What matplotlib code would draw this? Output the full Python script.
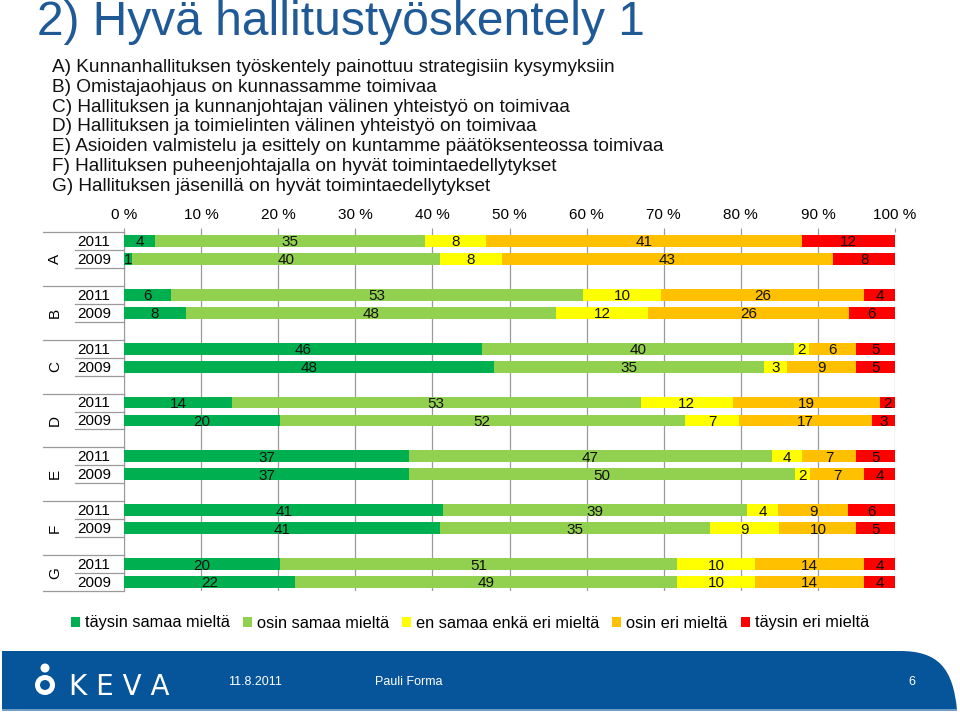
import matplotlib
matplotlib.use('Agg')
import matplotlib.pyplot as plt
from matplotlib.patches import Rectangle, Circle, PathPatch
from matplotlib.path import Path
import numpy as np

plt.rcParams['font.family'] = ['Liberation Sans', 'DejaVu Sans']

title = '2) Hyvä hallitustyöskentely 1'
statements = [
    'A) Kunnanhallituksen työskentely painottuu strategisiin kysymyksiin',
    'B) Omistajaohjaus on kunnassamme toimivaa',
    'C) Hallituksen ja kunnanjohtajan välinen yhteistyö on toimivaa',
    'D) Hallituksen ja toimielinten välinen yhteistyö on toimivaa',
    'E) Asioiden valmistelu ja esittely on kuntamme päätöksenteossa toimivaa',
    'F) Hallituksen puheenjohtajalla on hyvät toimintaedellytykset',
    'G) Hallituksen jäsenillä on hyvät toimintaedellytykset',
]

groups = ['A', 'B', 'C', 'D', 'E', 'F', 'G']
years = ['2011', '2009']
answers = ['täysin samaa mieltä', 'osin samaa mieltä', 'en samaa enkä eri mieltä',
           'osin eri mieltä', 'täysin eri mieltä']
colors = ['#00B050', '#92D050', '#FFFF00', '#FFC000', '#FF0000']

# per group: [2011 row, 2009 row], values in percent
vals_A = [[4, 35, 8, 41, 12], [1, 40, 8, 43, 8]]
vals_B = [[6, 53, 10, 26, 4], [8, 48, 12, 26, 6]]
vals_C = [[46, 40, 2, 6, 5], [48, 35, 3, 9, 5]]
vals_D = [[14, 53, 12, 19, 2], [20, 52, 7, 17, 3]]
vals_E = [[37, 47, 4, 7, 5], [37, 50, 2, 7, 4]]
vals_F = [[41, 39, 4, 9, 6], [41, 35, 9, 10, 5]]
vals_G = [[20, 51, 10, 14, 4], [22, 49, 10, 14, 4]]
all_vals = [vals_A, vals_B, vals_C, vals_D, vals_E, vals_F, vals_G]

footer_date = '11.8.2011'
footer_name = 'Pauli Forma'
page_no = '6'

W, H = 960, 716
fig = plt.figure(figsize=(W / 100, H / 100), dpi=100)

# background axes in pixel coordinates
bg = fig.add_axes([0, 0, 1, 1])
bg.set_xlim(0, W)
bg.set_ylim(H, 0)
bg.axis('off')

bg.text(37, 35, title, fontsize=34.5, color='#1F5A96', va='baseline', ha='left')
for i, s in enumerate(statements):
    bg.text(52, 72 + i * 19.8, s, fontsize=13.7, va='baseline', ha='left', color='#111111')

# footer band
verts = [(2, 651), (900, 651), (938, 651), (953, 668), (957, 710), (2, 710), (2, 651)]
codes = [Path.MOVETO, Path.LINETO, Path.CURVE4, Path.CURVE4, Path.CURVE4, Path.LINETO, Path.CLOSEPOLY]
bg.add_patch(PathPatch(Path(verts, codes), facecolor='#065499', edgecolor='none'))
bg.add_patch(Rectangle((2, 709), 955, 2, facecolor='#6F9CC8', edgecolor='none'))
bg.add_patch(Circle((45, 668), 4.5, facecolor='white', edgecolor='none'))
bg.add_patch(Circle((45, 685), 7.5, facecolor='none', edgecolor='white', linewidth=3.6))
bg.text(69, 695, 'K E V A', fontsize=20, color='white', va='baseline', ha='left',
        family=['DejaVu Sans'])
bg.text(228, 682, footer_date, fontsize=9, color='white', va='center', ha='left')
bg.text(375, 682, footer_name, fontsize=9, color='white', va='center', ha='left')
bg.text(912, 682, page_no, fontsize=9, color='white', va='center', ha='center')

# chart axes
x0, x1, y0, y1 = 124, 895, 232, 591
ax = fig.add_axes([x0 / W, 1 - y1 / H, (x1 - x0) / W, (y1 - y0) / H])
ax.set_xlim(0, 100)
ax.set_ylim(20, 0)

bar_h = 0.66
for g, gv in enumerate(all_vals):
    for r, row in enumerate(gv):
        y = 3 * g + r + 0.5
        row = np.array(row, dtype=float)
        pct = row / row.sum() * 100
        left = 0
        for k, (v, p) in enumerate(zip(row, pct)):
            ax.barh(y, p, left=left, height=bar_h, color=colors[k], zorder=3,
                    label=answers[k] if (g == 0 and r == 0) else None)
            ax.text(left + p / 2, y + 0.08, f'{int(v)}', ha='center', va='center',
                    fontsize=11, color='#111111', zorder=4)
            left += p

ax.xaxis.tick_top()
ax.set_xticks(np.arange(0, 101, 10))
ax.set_xticklabels([f'{t} %' for t in range(0, 101, 10)], fontsize=11)
ax.tick_params(axis='x', length=3, pad=4, color='#9A9A9A')
ax.grid(axis='x', color='#9A9A9A', linewidth=0.9, zorder=0)
ax.set_yticks([])
for sp in ['top', 'right', 'bottom']:
    ax.spines[sp].set_visible(False)
ax.spines['left'].set_color('#9A9A9A')

# category axis: year labels, group labels and separator lines
tr = ax.get_yaxis_transform()
ax_w = x1 - x0
outer_x = (43 - x0) / ax_w
inner_x = (75 - x0) / ax_w
for g, name in enumerate(groups):
    top = 3 * g
    nslots = 3 if g < len(groups) - 1 else 2
    ax.plot([outer_x, 0], [top, top], transform=tr, color='#9A9A9A', lw=0.9, clip_on=False)
    for s in range(1, nslots):
        ax.plot([inner_x, 0], [top + s, top + s], transform=tr, color='#9A9A9A', lw=0.9, clip_on=False)
    for r, yr in enumerate(years):
        ax.text((77 - x0) / ax_w, top + r + 0.55, yr, transform=tr, fontsize=11,
                ha='left', va='center')
    ax.text((55 - x0) / ax_w, top + nslots / 2, name,
            transform=tr, fontsize=11, ha='center', va='center', rotation=90)
ax.plot([outer_x, 0], [20, 20], transform=tr, color='#9A9A9A', lw=0.9, clip_on=False)

leg = fig.legend(loc='center', bbox_to_anchor=(470 / W, 1 - 623 / H), ncol=5, frameon=False,
                 fontsize=11.8, handlelength=0.55, handleheight=0.55, handletextpad=0.3,
                 columnspacing=0.8)

fig.savefig('out.png', dpi=100)
